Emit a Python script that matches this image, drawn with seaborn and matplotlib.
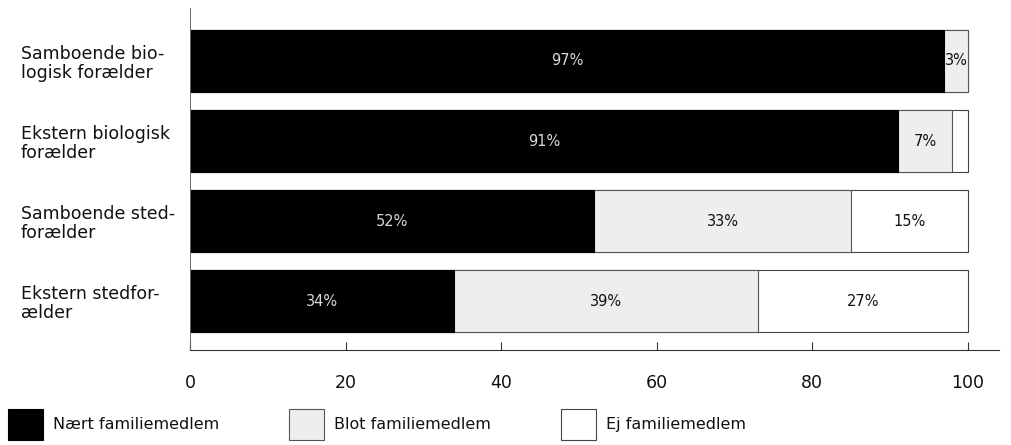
import matplotlib
matplotlib.use("Agg")
import matplotlib.pyplot as plt
import seaborn as sns
import pandas as pd
import numpy as np
from matplotlib.patches import Patch

categories = ["Samboende bio-\nlogisk forælder", "Ekstern biologisk\nforælder",
              "Samboende sted-\nforælder", "Ekstern stedfor-\nælder"]
naert = [97, 91, 52, 34]
blot = [3, 7, 33, 39]
ej = [0, 2, 15, 27]
series_names = ["Nært familiemedlem", "Blot familiemedlem", "Ej familiemedlem"]
show_label = [[True, True, False], [True, True, False], [True, True, True], [True, True, True]]
xticks = [0, 20, 40, 60, 80, 100]

sns.set_theme(style="white")
plt.rcParams['font.family'] = ['DejaVu Sans']
plt.rcParams['text.color'] = '#111111'
plt.rcParams['xtick.color'] = '#111111'
plt.rcParams['ytick.color'] = '#111111'

df = pd.DataFrame({"cat": categories, "naert": naert, "blot": blot, "ej": ej})
df["c1"] = df["naert"]
df["c2"] = df["naert"] + df["blot"]
df["c3"] = df["naert"] + df["blot"] + df["ej"]

fig = plt.figure(figsize=(10.11, 4.45), dpi=100)
ax = fig.add_axes([0.188, 0.213, 0.80, 0.769])

colors = ["#000000", "#eeeeee", "#ffffff"]
edge = ["#000000", "#555555", "#444444"]
bw = 0.77
for col, c, e in [("c3", colors[2], edge[2]), ("c2", colors[1], edge[1]), ("c1", colors[0], edge[0])]:
    sns.barplot(data=df, x=col, y="cat", orient="h", color=c, edgecolor=e,
                linewidth=0.8, width=bw, ax=ax, saturation=1)

for i in range(len(categories)):
    vals = [naert[i], blot[i], ej[i]]
    start = 0
    for j, v in enumerate(vals):
        if show_label[i][j] and v > 0:
            ax.text(start + v / 2, i, f"{v}%", ha="center", va="center",
                    fontsize=10.5, color="#d8d8d8" if j == 0 else "#111111")
        start += v

ax.set_xlim(0, 104)
ax.set_ylim(3.61, -0.66)
ax.set_xticks(xticks)
ax.set_xticklabels([str(t) for t in xticks], fontsize=12.5)
ax.set_xlabel("")
ax.set_ylabel("")
ax.tick_params(axis="x", direction="in", length=6, width=0.8, color="#333333", pad=17, bottom=True)
ax.tick_params(axis="y", length=0, labelsize=12.5, pad=122)
for lbl in ax.get_yticklabels():
    lbl.set_horizontalalignment("left")
    lbl.set_linespacing(1.05)
for s in ["top", "right"]:
    ax.spines[s].set_visible(False)
ax.spines["left"].set_color("#666666")
ax.spines["left"].set_linewidth(0.7)
ax.spines["bottom"].set_color("#333333")
ax.spines["bottom"].set_linewidth(0.8)

handles = [Patch(facecolor=colors[0], edgecolor=edge[0], linewidth=0.8),
           Patch(facecolor=colors[1], edgecolor=edge[1], linewidth=0.8),
           Patch(facecolor=colors[2], edgecolor=edge[2], linewidth=0.8)]
fig.legend(handles, series_names, loc="lower left", bbox_to_anchor=(0.008, 0.012),
           ncol=3, frameon=False, fontsize=11.5, handlelength=2.2, handleheight=2.6,
           handletextpad=0.6, columnspacing=4.4, borderpad=0, borderaxespad=0)

fig.savefig("out.png", dpi=100)
